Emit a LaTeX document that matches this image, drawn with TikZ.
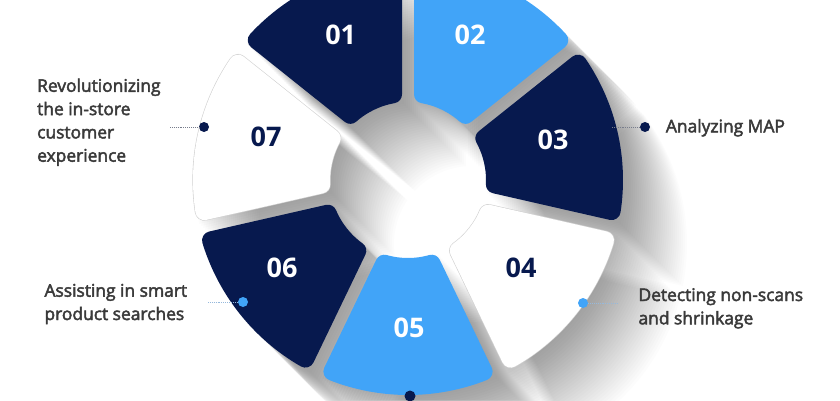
\documentclass[tikz,border=0pt]{standalone}
\usepackage{fontspec}
\setmainfont{Open Sans}
\newfontfamily\lblfont{Open Sans}[FakeBold=2.6]
\definecolor{navy}{RGB}{7,25,78}
\definecolor{sky}{RGB}{65,164,248}
\definecolor{txtgray}{RGB}{58,58,58}
\definecolor{linegray}{RGB}{120,125,140}
\definecolor{lineblue}{RGB}{150,185,220}
\begin{document}
\begin{tikzpicture}[x=1pt,y=1pt,
  seg/.style={fill=#1, draw=#1, line width=18pt, line join=round},
  segline/.style={draw=black!18, line width=19.2pt, line join=round},
  num/.style={font=\fontsize{27}{27}\selectfont\bfseries, inner sep=0pt},
  lbl/.style={font=\lblfont\fontsize{17.4}{23.3}\selectfont, text=txtgray, inner sep=0pt, align=left},
  dot/.style={circle, minimum size=10pt, inner sep=0pt},
  dotline/.style={line width=0.6pt, dash pattern=on 0.8pt off 1.1pt}]
\useasboundingbox (0,0) rectangle (840,400);
\clip (0,0) rectangle (840,400);
\fill[white] (0,0) rectangle (840,400);
\coordinate (C) at (408,220);
\def\segshape#1{({#1-21.538}:206) arc[start angle={#1-21.538}, end angle={#1+21.538}, radius=206] -- ({#1+15.784}:87) arc[start angle={#1+15.784}, end angle={#1-15.784}, radius=87] -- cycle}
\def\segsharp#1{({#1-24.115}:215) arc[start angle={#1-24.115}, end angle={#1+24.115}, radius=215] -- ({#1+21.302}:78) arc[start angle={#1+21.302}, end angle={#1-21.302}, radius=78] -- cycle}
\begin{scope}[shift={(C)}]
  % long shadows
  \foreach \a in {-90,-38.571,12.857,64.286,115.714,167.143,218.571}{
    \foreach \s in {1,...,32}{
      \fill[black, fill opacity=0.0105, shift={(2*\s,-2*\s)}] \segsharp{\a};
    }
  }
  % segments
  \path[seg=navy] \segshape{115.714};
  \path[seg=sky] \segshape{64.286};
  \path[seg=navy] \segshape{12.857};
  \path[segline] \segshape{-38.571};
  \path[seg=white] \segshape{-38.571};
  \path[seg=sky] \segshape{-90};
  \path[seg=navy] \segshape{218.571};
  \path[segline] \segshape{167.143};
  \path[seg=white] \segshape{167.143};
\end{scope}
% numbers
\node[num, text=white] (n01) at (340.7,365) {01};
\node[num, text=white] (n02) at (470,365) {02};
\node[num, text=white] (n03) at (553,260) {03};
\node[num, text=navy]  (n04) at (521,132.5) {04};
\node[num, text=white] (n05) at (409,72.5) {05};
\node[num, text=white] (n06) at (282,132.5) {06};
\node[num, text=navy]  (n07) at (266,263.5) {07};
% dots and leaders
\node[dot, fill=navy] (d07) at (204,273) {};
\node[dot, fill=navy] (d03) at (645,273) {};
\node[dot, fill=sky]  (d06) at (243,98) {};
\node[dot, fill=sky]  (d04) at (583,97) {};
\node[dot, fill=navy, minimum size=11pt] (d05) at (410,4) {};
\coordinate (e07) at (170,273);
\coordinate (e03) at (612,273);
\coordinate (e06) at (208,98);
\coordinate (e04) at (618,97);
\draw[dotline, draw=linegray] (e07) -- (d07);
\draw[dotline, draw=linegray] (e03) -- (d03);
\draw[dotline, draw=lineblue] (e06) -- (d06);
\draw[dotline, draw=lineblue] (d04) -- (e04);
% labels (base = baseline of last line)
\node[lbl, anchor=base west] (t07) at (37,238.3) {Revolutionizing\\the in-store\\customer\\experience};
\node[lbl, anchor=base west] (t03) at (665.7,267.7) {Analyzing MAP};
\node[lbl, anchor=base west] (t06) at (44.3,80) {Assisting in smart\\product searches};
\node[lbl, anchor=base west] (t04) at (638.3,75.7) {Detecting non-scans\\and shrinkage};
\end{tikzpicture}
\end{document}
